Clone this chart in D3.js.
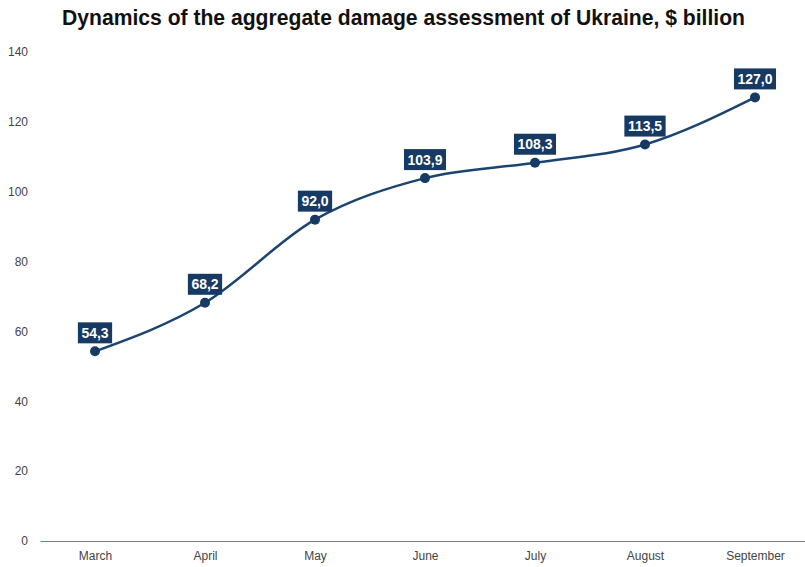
<!DOCTYPE html>
<html>
<head>
    <meta charset="utf-8">
    <style>
        body {
            margin: 0;
            background: #fff;
            font-family: 'Liberation Sans', Arial, sans-serif;
        }
        .title {
            font-size: 22px;
            font-weight: bold;
            fill: #111;
        }
        .tick text {
            font-size: 12px;
            fill: #444;
        }
        .point-label {
            font-size: 14px;
            font-weight: bold;
            fill: #fff;
        }
    </style>
</head>
<body>
    <svg width="805" height="567"></svg>

<script src="https://d3js.org/d3.v7.min.js"></script>
<script>
    let months = ["March", "April", "May", "June", "July", "August", "September"]
    let damage = [54.3, 68.2, 92.0, 103.9, 108.3, 113.5, 127.0]
    let yTicks = [0, 20, 40, 60, 80, 100, 120, 140]

    let width = 805
    let height = 567
    let margin = { top: 52, right: -5, bottom: 26, left: 40 }

    let svg = d3.select("svg")

    let x = d3.scalePoint()
        .domain(months)
        .range([margin.left, width - margin.right])
        .padding(0.5)

    let y = d3.scaleLinear()
        .domain([0, 140])
        .range([height - margin.bottom, margin.top])

    let data = months.map((m, i) => ({ month: m, value: damage[i] }))

    svg.append("text")
        .attr("class", "title")
        .attr("x", 62)
        .attr("y", 25)
        .attr("textLength", 683)
        .attr("lengthAdjust", "spacingAndGlyphs")
        .text("Dynamics of the aggregate damage assessment of Ukraine, $ billion")

    // y axis, no line
    svg.append("g")
        .attr("class", "y axis")
        .attr("transform", `translate(${margin.left - 12},0)`)
        .call(d3.axisLeft(y).tickValues(yTicks).tickSize(0).tickPadding(0))
        .call(g => g.select(".domain").remove())

    // x axis
    svg.append("g")
        .attr("class", "x axis")
        .attr("transform", `translate(0,${y(0)})`)
        .call(d3.axisBottom(x).tickSize(0).tickPadding(10))
        .call(g => g.select(".domain")
            .attr("stroke", "#5b87b3")
            .attr("stroke-width", 1.2))

    let line = d3.line()
        .x(d => x(d.month))
        .y(d => y(d.value))
        .curve(d3.curveMonotoneX)

    svg.append("path")
        .datum(data)
        .attr("fill", "none")
        .attr("stroke", "#1c4470")
        .attr("stroke-width", 2.5)
        .attr("d", line)

    svg.selectAll(".dot")
        .data(data)
        .join("circle")
        .attr("class", "dot")
        .attr("cx", d => x(d.month))
        .attr("cy", d => y(d.value))
        .attr("r", 5)
        .attr("fill", "#163a63")

    let fmt = v => v.toFixed(1).replace(".", ",")

    let labels = svg.selectAll(".lab")
        .data(data)
        .join("g")
        .attr("class", "lab")
        .attr("transform", d => `translate(${x(d.month)},${y(d.value) - 18.5})`)

    labels.append("rect")
        .attr("fill", "#163a63")
        .attr("y", -10.5)
        .attr("height", 21)

    labels.append("text")
        .attr("class", "point-label")
        .attr("text-anchor", "middle")
        .attr("dy", "0.36em")
        .text(d => fmt(d.value))

    labels.each(function () {
        let g = d3.select(this)
        let w = g.select("text").node().getComputedTextLength() + 7
        g.select("rect").attr("x", -w / 2).attr("width", w)
    })
</script>
</body>
</html>
